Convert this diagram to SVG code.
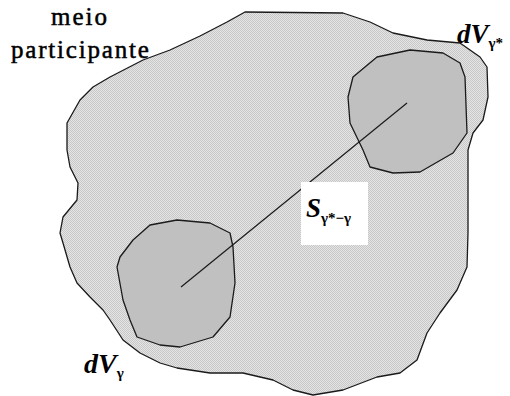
<svg xmlns="http://www.w3.org/2000/svg" width="510" height="396" viewBox="0 0 510 396">
<defs>
<pattern id="dots" width="2" height="2" patternUnits="userSpaceOnUse">
<rect width="2" height="2" fill="#e4e4e4"/>
<rect width="1" height="1" fill="#c8c8c8"/>
<rect x="1" y="1" width="1" height="1" fill="#c8c8c8"/>
</pattern>
</defs>
<style>
.blob{stroke:#1a1a1a;stroke-width:1.3;stroke-linejoin:round}
.outer{fill:url(#dots)}
.inner{fill:#c0c0c0}
text{font-family:"Liberation Serif","Times New Roman",serif;fill:#000}
.reg{stroke:#000;stroke-width:0.5}
.bi{font-weight:bold;font-style:italic}
.sub{font-weight:bold;font-style:normal}
</style>
<rect width="510" height="396" fill="#fff"/>
<g id="medium">
<path class="blob outer" d="M245,12 L343,13 L370,22 L393,33 L427,40 L460,43 L480,57 L487,67 L488,97 L483,120 L473,133 L468,150 L468,233 L467,267 L457,290 L440,313 L427,333 L417,360 L400,373 L377,377 L343,390 L313,395 L293,390 L273,380 L243,373 L210,373 L177,368 L160,363 L140,353 L123,340 L110,320 L103,310 L90,297 L77,283 L70,267 L63,243 L60,233 L63,217 L77,200 L78,183 L70,167 L67,150 L67,123 L80,100 L93,87 L110,77 L143,60 L170,50 L200,36 L227,22 Z"/>
</g>
<g id="dVgamma">
<path class="blob inner" d="M150,225 L177,220 L210,223 L230,233 L233,247 L235,283 L230,317 L213,337 L180,347 L160,345 L137,337 L130,320 L123,300 L117,267 L120,257 L133,240 Z"/>
</g>
<g id="dVgammastar">
<path class="blob inner" d="M353,77 L377,57 L410,50 L443,53 L460,63 L465,77 L467,133 L453,153 L420,172 L393,173 L370,167 L363,150 L350,123 L348,97 Z"/>
</g>
<g id="connectors">
<line x1="181" y1="287" x2="407" y2="103" stroke="#1a1a1a" stroke-width="1.2"/>
</g>
<g id="label-S">
<rect x="301" y="182" width="67" height="63" fill="#fff"/>
<text x="306" y="217"><tspan class="bi" font-size="27">S</tspan><tspan class="sub" font-size="15" dy="6">γ*−γ</tspan></text>
</g>
<g id="label-medium">
<text class="reg" font-size="25" letter-spacing="2" x="51" y="25">meio</text>
<text class="reg" font-size="25" letter-spacing="1.8" x="11" y="58">participante</text>
</g>
<g id="label-dVgs">
<text x="457" y="43"><tspan class="bi" font-size="27">dV</tspan><tspan class="sub" font-size="15" dy="5">γ*</tspan></text>
</g>
<g id="label-dVg">
<text x="84" y="373"><tspan class="bi" font-size="28">dV</tspan><tspan class="sub" font-size="15" dy="5">γ</tspan></text>
</g>
</svg>
